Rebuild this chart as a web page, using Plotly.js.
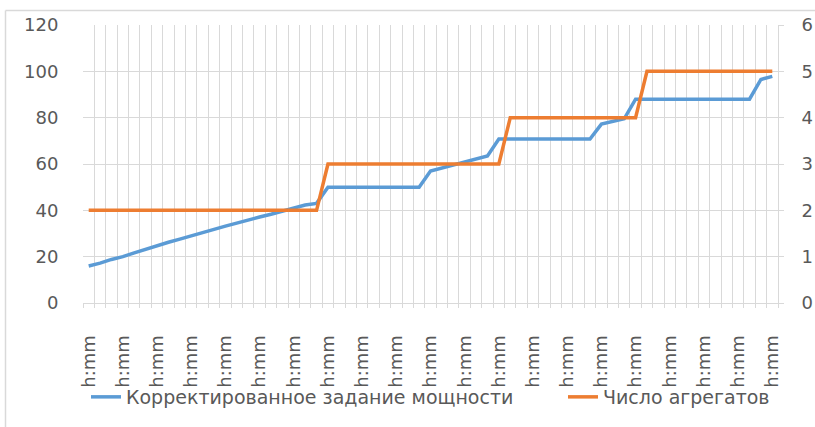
<!DOCTYPE html>
<html>
<head>
<meta charset="utf-8">
<script src="https://cdn.plot.ly/plotly-3.0.1.min.js"></script>
<style>html,body{margin:0;padding:0;background:#fff;}#chart{width:815px;height:427px;}</style>
</head>
<body>
<div id="chart"></div>
<script>
// Category labels (time axis, format placeholder as in the source)
var timeLabels = [];
for (var k = 0; k < 61; k++) timeLabels.push("h:mm");

// Корректированное задание мощности (left axis)
var powerSetpoint = [
  16, 17.2, 18.8, 20, 21.6, 23.2, 24.6, 26.2, 27.6, 28.9,
  30.4, 31.8, 33.2, 34.6, 35.8, 37.1, 38.3, 39.7, 41, 42.3,
  43,
  50, 50, 50, 50, 50, 50, 50, 50, 50,
  57, 58.3, 59.8, 61.2, 62.5, 63.5,
  70.8, 70.8, 70.8, 70.8, 70.8, 70.8, 70.8, 70.8, 70.8,
  77.2, 78.3, 79.5,
  88, 88, 88, 88, 88, 88, 88, 88, 88, 88, 88,
  96.5, 97.8
];

// Число агрегатов (right axis)
var unitCount = [
  2, 2, 2, 2, 2, 2, 2, 2, 2, 2, 2, 2, 2, 2, 2, 2, 2, 2, 2, 2, 2,
  3, 3, 3, 3, 3, 3, 3, 3, 3, 3, 3, 3, 3, 3, 3, 3,
  4, 4, 4, 4, 4, 4, 4, 4, 4, 4, 4, 4,
  5, 5, 5, 5, 5, 5, 5, 5, 5, 5, 5, 5
];

var seriesNames = ["Корректированное задание мощности", "Число агрегатов"];

var xIdx = timeLabels.map(function (_, i) { return i; });
var labelStep = 3;
var tickVals = xIdx.filter(function (i) { return i % labelStep === 0; });
var tickText = tickVals.map(function (i) { return timeLabels[i]; });
var boundaries = [];
for (var b = -0.5; b <= timeLabels.length - 0.5 + 1e-9; b += 1) boundaries.push(b);

var FONT = "DejaVu Sans";
var GRID = "#d9d9d9";
var TXT = "#595959";

var traces = [
  {
    x: xIdx, y: powerSetpoint, name: seriesNames[0], type: "scatter", mode: "lines",
    line: { color: "#5b9bd5", width: 3.5 }, yaxis: "y", legend: "legend"
  },
  {
    x: xIdx, y: unitCount, name: seriesNames[1], type: "scatter", mode: "lines",
    line: { color: "#ed7d31", width: 3.5 }, yaxis: "y2", legend: "legend2"
  }
];

var L = 83, R = 37, T = 25, B = 123, W = 815, H = 427;
var pw = W - L - R, ph = H - T - B;
function px2x(p) { return (p - L) / pw; }
function py2y(p) { return (H - B - p) / ph; }

var legendBase = {
  orientation: "h", xanchor: "left", y: py2y(397), yanchor: "middle",
  font: { family: FONT, size: 19, color: TXT },
  bgcolor: "rgba(0,0,0,0)", itemclick: false, itemdoubleclick: false
};

var layout = {
  width: W, height: H,
  margin: { l: L, r: R, t: T, b: B, pad: 0 },
  paper_bgcolor: "#fff", plot_bgcolor: "#fff",
  font: { family: FONT, color: TXT, size: 18 },
  showlegend: true,
  legend: Object.assign({}, legendBase, { x: px2x(86) }),
  legend2: Object.assign({}, legendBase, { x: px2x(563) }),
  xaxis: {
    type: "linear", range: [-0.5, timeLabels.length - 0.5], fixedrange: true,
    tickmode: "array", tickvals: tickVals, ticktext: tickText, tickangle: -90,
    ticks: "", showgrid: false, zeroline: false,
    showline: true, linecolor: GRID, linewidth: 1,
    ticklabelstandoff: 24,
    tickfont: { family: FONT, size: 18, color: TXT },
    minor: { tickmode: "array", tickvals: boundaries, showgrid: true, gridcolor: GRID, gridwidth: 1,
             ticks: "outside", ticklen: 4, tickcolor: GRID, tickwidth: 1 }
  },
  yaxis: {
    range: [0, 120], dtick: 20, tick0: 0, fixedrange: true,
    showgrid: true, gridcolor: GRID, gridwidth: 1, zeroline: false,
    showline: false, ticks: "outside", ticklen: 20, tickcolor: "rgba(0,0,0,0)",
    tickfont: { family: FONT, size: 18, color: TXT }
  },
  yaxis2: {
    range: [0, 6], dtick: 1, tick0: 0, overlaying: "y", side: "right", fixedrange: true,
    showgrid: false, zeroline: false,
    showline: true, linecolor: GRID, linewidth: 1,
    ticks: "outside", ticklen: 5, tickcolor: GRID, ticklabelstandoff: 14,
    tickfont: { family: FONT, size: 18, color: TXT }
  },
  shapes: [
    { type: "line", xref: "paper", yref: "paper", x0: px2x(5.5), x1: px2x(830), y0: py2y(10.5), y1: py2y(10.5),
      line: { color: GRID, width: 1.5 } },
    { type: "line", xref: "paper", yref: "paper", x0: px2x(5.5), x1: px2x(5.5), y0: py2y(10.5), y1: py2y(440),
      line: { color: GRID, width: 1.5 } }
  ]
};

Plotly.newPlot("chart", traces, layout, { staticPlot: true, displayModeBar: false });
</script>
</body>
</html>
